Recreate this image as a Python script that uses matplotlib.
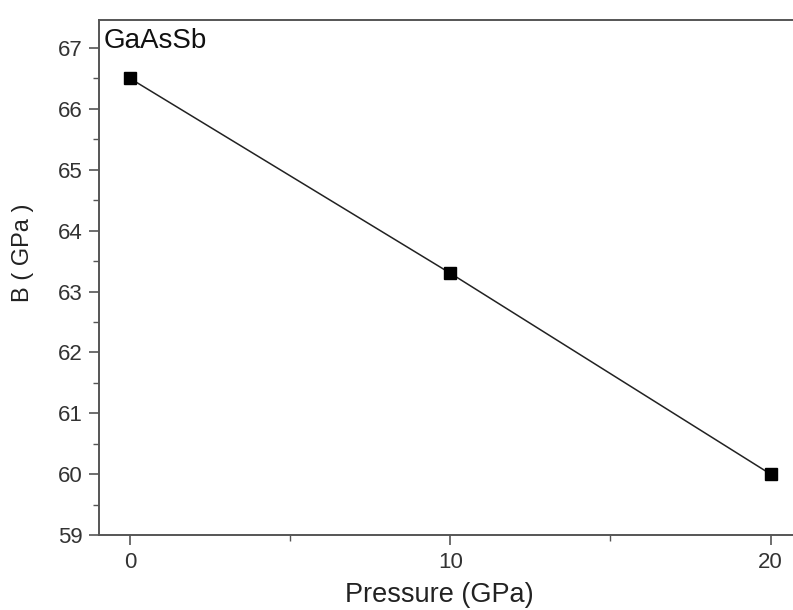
import matplotlib.pyplot as plt
from matplotlib.ticker import MultipleLocator

# data
pressure = [0, 10, 20]
bulk_modulus = [66.5, 63.3, 60.0]
material = "GaAsSb"

plt.rcParams['font.family'] = ['Liberation Sans', 'DejaVu Sans']

fig = plt.figure(figsize=(7.93, 6.10), dpi=100)
ax = fig.add_axes([99 / 793, 1 - 535 / 610, 1 - 99 / 793, (535 - 20) / 610])

ax.plot(pressure, bulk_modulus, color="#222222", lw=1.1,
        marker="s", markersize=8.5, markerfacecolor="black", markeredgecolor="black")

ax.set_xlim(-0.97, 20.70)
ax.set_ylim(59, 67.46)
ax.xaxis.set_major_locator(MultipleLocator(10))
ax.xaxis.set_minor_locator(MultipleLocator(5))
ax.yaxis.set_major_locator(MultipleLocator(1))
ax.yaxis.set_minor_locator(MultipleLocator(0.5))

for side in ["left", "bottom", "top"]:
    ax.spines[side].set_color("#555555")
    ax.spines[side].set_linewidth(1.4)
ax.spines["right"].set_visible(False)

ax.tick_params(which="major", direction="out", length=7, width=1.2,
               color="#555555", labelsize=16, labelcolor="#333333", pad=5)
ax.tick_params(which="minor", direction="out", length=4, width=1.0, color="#555555")
ax.tick_params(top=False, right=False, which="both")

ax.set_xlabel("Pressure (GPa)", fontsize=19.5, color="#222222")
ax.set_ylabel("B ( GPa )", fontsize=17, color="#222222")
ax.xaxis.set_label_coords(0.491, -0.092)
ax.yaxis.set_label_coords(-0.093, 0.548)

ax.text(0.006, 0.985, material, transform=ax.transAxes, ha="left", va="top",
        fontsize=20, color="#111111")

fig.savefig("out.png", dpi=100)
